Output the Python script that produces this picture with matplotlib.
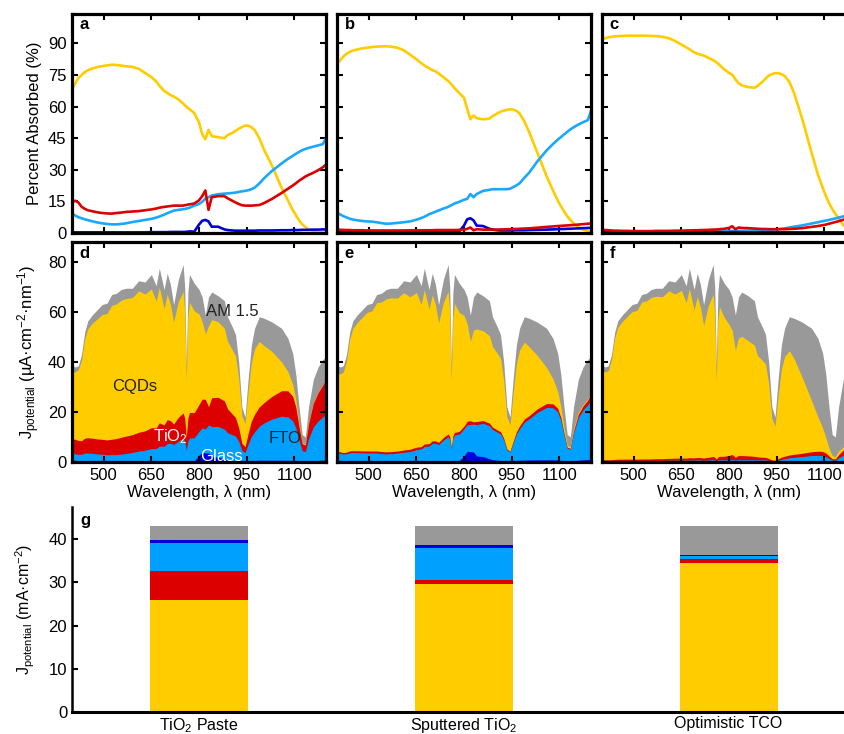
import numpy as np
import matplotlib
matplotlib.use("Agg")
import matplotlib.pyplot as plt

plt.rcParams['font.family'] = ['Liberation Sans', 'DejaVu Sans']
plt.rcParams['mathtext.fontset'] = 'custom'
plt.rcParams['mathtext.rm'] = 'Liberation Sans'
plt.rcParams['mathtext.it'] = 'Liberation Sans:italic'
plt.rcParams['mathtext.bf'] = 'Liberation Sans:bold'

# ---------------- data ----------------
wavelength = [400, 410, 420, 430, 440, 450, 465, 480, 495, 510, 525, 540, 555, 570, 590, 610,
              630, 650, 665, 675, 690, 700, 710, 720, 735, 750, 755, 760, 765, 770, 785, 800,
              810, 820, 830, 840, 860, 880, 890, 905, 915, 925, 935, 945, 955, 965, 975, 990,
              1005, 1030, 1060, 1080, 1095, 1105, 1115, 1125, 1135, 1145, 1160, 1175, 1190, 1200]

# AM1.5 photon current density (uA cm^-2 nm^-1)
am15 = [38.8, 38.0, 38.5, 43.0, 52.0, 56.5, 59.0, 61.0, 63.0, 63.5, 67.0, 67.5, 69.0, 69.5, 69.5, 72.5,
        72.0, 75.0, 70.5, 77.5, 69.0, 75.5, 71.0, 63.0, 73.0, 79.0, 70.0, 38.5, 68.0, 75.0, 71.5, 69.0,
        66.0, 58.8, 66.0, 68.0, 66.5, 64.5, 58.0, 54.0, 51.0, 40.0, 22.0, 18.0, 33.5, 46.8, 53.5, 58.1,
        57.5, 56.0, 53.5, 49.5, 43.5, 35.0, 22.0, 11.0, 10.0, 22.0, 33.0, 38.0, 41.0, 42.0]

# Percent absorbed, panel a (TiO2 paste)
cqd_a = [68.4, 71.0, 73.6, 75.0, 76.3, 77.3, 78.2, 78.8, 79.2, 79.6, 79.9, 79.8, 79.5, 79.2, 78.9, 78.0,
         76.0, 74.0, 72.0, 70.0, 67.5, 66.5, 65.5, 64.8, 63.5, 61.5, 60.8, 60.0, 59.4, 58.8, 57.0, 52.5,
         47.0, 44.5, 49.0, 46.0, 45.5, 45.0, 46.5, 47.5, 48.5, 49.5, 50.3, 51.0, 51.0, 50.2, 49.0, 45.0,
         39.5, 32.0, 21.5, 15.5, 11.0, 8.5, 6.0, 4.2, 2.8, 1.8, 1.0, 0.5, 0.2, 0.1]
fto_a = [9.2, 8.3, 7.5, 7.0, 6.5, 6.1, 5.5, 5.0, 4.6, 4.3, 4.1, 4.1, 4.3, 4.6, 5.2, 5.7,
         6.2, 6.7, 7.3, 7.8, 8.7, 9.4, 10.0, 10.6, 11.0, 11.3, 11.4, 11.6, 11.8, 12.0, 13.0, 13.8,
         14.8, 16.3, 17.0, 17.8, 18.4, 18.7, 18.8, 19.0, 19.2, 19.5, 19.8, 20.0, 20.3, 20.8, 21.5, 23.5,
         26.0, 29.5, 33.0, 35.2, 36.6, 37.6, 38.5, 39.3, 39.9, 40.4, 41.0, 41.6, 42.2, 45.0]
tio2_a = [14.7, 15.3, 14.5, 12.5, 11.5, 10.8, 10.3, 9.8, 9.5, 9.3, 9.2, 9.5, 9.7, 10.0, 10.2, 10.4,
          10.8, 11.2, 11.6, 12.0, 12.4, 12.6, 12.8, 13.0, 13.0, 13.0, 13.2, 13.3, 13.5, 13.6, 14.0, 15.5,
          17.5, 20.2, 11.0, 17.0, 17.5, 17.5, 16.5, 15.3, 14.5, 13.8, 13.2, 13.0, 13.0, 13.0, 13.1, 13.3,
          14.2, 16.2, 19.0, 21.0, 22.5, 23.6, 24.8, 25.8, 26.8, 27.6, 28.6, 29.8, 31.2, 32.5]
glass_a = [0.3, 0.3, 0.3, 0.3, 0.3, 0.3, 0.3, 0.3, 0.3, 0.3, 0.3, 0.3, 0.3, 0.3, 0.3, 0.3,
           0.3, 0.4, 0.4, 0.4, 0.4, 0.4, 0.5, 0.5, 0.5, 0.5, 0.5, 0.6, 0.6, 0.8, 0.6, 4.0,
           5.8, 6.2, 5.5, 3.0, 3.0, 1.7, 1.4, 1.2, 1.1, 1.1, 1.1, 1.1, 1.1, 1.1, 1.1, 1.2,
           1.2, 1.2, 1.3, 1.3, 1.4, 1.4, 1.4, 1.5, 1.5, 1.5, 1.6, 1.6, 1.7, 1.7]

# panel b (sputtered TiO2)
cqd_b = [80.5, 82.0, 83.8, 85.1, 86.0, 86.6, 87.2, 87.7, 88.0, 88.3, 88.5, 88.6, 88.7, 88.5, 88.0, 86.8,
         84.7, 82.5, 80.7, 79.6, 78.2, 77.4, 76.8, 75.8, 74.0, 72.2, 71.5, 70.7, 69.8, 68.8, 66.5, 64.2,
         59.0, 54.0, 55.8, 54.5, 54.0, 54.3, 55.5, 56.8, 57.6, 58.1, 58.5, 58.7, 58.6, 58.0, 56.8, 53.0,
         48.0, 38.5, 27.0, 20.3, 15.5, 12.8, 10.3, 8.0, 6.2, 4.6, 2.8, 1.6, 1.0, 0.8]
fto_b = [9.6, 8.8, 8.0, 7.4, 6.8, 6.4, 6.0, 5.7, 5.5, 5.4, 5.1, 4.7, 4.4, 4.5, 4.8, 5.1,
         5.5, 6.3, 7.1, 7.7, 8.9, 9.5, 10.1, 10.7, 11.6, 12.4, 12.8, 13.2, 13.6, 14.0, 14.8, 15.8,
         16.2, 18.5, 17.0, 18.5, 20.0, 20.5, 20.8, 20.8, 20.8, 20.8, 20.8, 21.0, 21.8, 22.6, 23.6, 26.2,
         28.6, 33.8, 39.2, 42.2, 44.3, 45.5, 46.8, 48.0, 49.2, 50.2, 51.5, 52.6, 53.6, 58.0]
tio2_b = [1.6, 1.5, 1.5, 1.4, 1.4, 1.3, 1.3, 1.3, 1.2, 1.2, 1.2, 1.2, 1.2, 1.2, 1.2, 1.2,
          1.3, 1.3, 1.3, 1.3, 1.3, 1.3, 1.4, 1.4, 1.4, 1.4, 1.4, 1.4, 1.4, 1.4, 1.5, 1.5,
          2.0, 2.6, 1.3, 1.8, 1.6, 1.6, 1.6, 1.6, 1.7, 1.7, 1.8, 1.8, 1.9, 1.9, 2.0, 2.1,
          2.2, 2.5, 2.9, 3.1, 3.3, 3.4, 3.5, 3.6, 3.7, 3.8, 4.0, 4.2, 4.4, 4.5]
glass_b = [0.3, 0.3, 0.3, 0.3, 0.3, 0.3, 0.3, 0.3, 0.3, 0.3, 0.3, 0.3, 0.3, 0.3, 0.3, 0.3,
           0.3, 0.3, 0.3, 0.3, 0.4, 0.4, 0.4, 0.4, 0.4, 0.4, 0.4, 0.4, 0.4, 0.4, 0.8, 3.5,
           6.5, 7.0, 6.0, 3.5, 3.3, 2.0, 1.6, 1.3, 1.2, 1.2, 1.2, 1.2, 1.2, 1.3, 1.3, 1.3,
           1.4, 1.5, 1.6, 1.7, 1.8, 1.9, 1.9, 2.0, 2.0, 2.1, 2.2, 2.3, 2.4, 2.5]

# panel c (optimistic TCO)
cqd_c = [91.8, 92.5, 92.9, 93.2, 93.4, 93.5, 93.6, 93.7, 93.7, 93.7, 93.7, 93.7, 93.6, 93.5, 93.2, 92.5,
         91.2, 89.5, 88.2, 87.3, 85.8, 85.2, 84.7, 84.3, 83.2, 82.1, 81.6, 81.1, 80.5, 79.8, 77.7, 76.0,
         75.2, 73.0, 71.2, 70.1, 69.3, 69.0, 69.8, 71.8, 73.3, 74.7, 75.4, 75.9, 75.9, 75.5, 74.6, 71.8,
         66.5, 54.5, 38.2, 27.8, 21.6, 17.6, 14.2, 11.4, 9.1, 7.0, 3.7, 2.0, 1.0, 0.6]
fto_c = [0.6, 0.6, 0.6, 0.6, 0.6, 0.6, 0.6, 0.6, 0.6, 0.6, 0.6, 0.6, 0.6, 0.6, 0.6, 0.7,
         0.7, 0.7, 0.7, 0.7, 0.8, 0.8, 0.8, 0.8, 0.8, 0.9, 0.9, 0.9, 0.9, 0.9, 0.9, 1.0,
         1.0, 1.0, 1.0, 1.0, 1.1, 1.1, 1.2, 1.3, 1.4, 1.5, 1.6, 1.7, 1.8, 2.0, 2.2, 2.6,
         3.0, 3.6, 4.5, 5.1, 5.6, 5.9, 6.2, 6.6, 6.9, 7.3, 7.9, 8.4, 8.9, 9.2]
tio2_c = [1.5, 1.4, 1.3, 1.2, 1.1, 1.1, 1.0, 1.0, 0.9, 0.9, 0.9, 0.9, 0.9, 1.0, 1.0, 1.0,
          1.1, 1.1, 1.2, 1.2, 1.3, 1.3, 1.4, 1.4, 1.5, 1.6, 1.6, 1.7, 1.7, 1.8, 2.0, 2.4,
          3.2, 1.8, 2.6, 2.4, 2.3, 2.1, 2.0, 1.9, 1.9, 1.8, 1.8, 1.8, 1.8, 1.8, 1.8, 1.9,
          2.0, 2.3, 2.9, 3.3, 3.7, 4.0, 4.4, 4.8, 5.2, 5.6, 6.3, 7.0, 7.7, 8.0]
glass_c = [0.3, 0.3, 0.3, 0.3, 0.3, 0.3, 0.3, 0.3, 0.3, 0.3, 0.3, 0.3, 0.3, 0.3, 0.3, 0.3,
           0.3, 0.3, 0.3, 0.3, 0.3, 0.3, 0.3, 0.3, 0.3, 0.3, 0.3, 0.3, 0.3, 0.3, 0.3, 0.4,
           0.4, 0.4, 0.4, 0.4, 0.3, 0.3, 0.3, 0.3, 0.3, 0.3, 0.3, 0.3, 0.3, 0.3, 0.3, 0.3,
           0.3, 0.3, 0.3, 0.3, 0.3, 0.3, 0.3, 0.3, 0.3, 0.3, 0.3, 0.3, 0.3, 0.3]

# panel g: integrated J (mA cm^-2)
bar_labels = ['TiO$_2$ Paste', 'Sputtered TiO$_2$', 'Optimistic TCO']
bar_cqd = [25.9, 29.6, 34.4]
bar_tio2 = [6.7, 0.9, 1.0]
bar_fto = [6.5, 7.4, 0.7]
bar_glass = [0.7, 0.7, 0.3]
bar_lost = [3.1, 4.3, 6.5]

# ---------------- style ----------------
YEL = '#FFCC00'
RED = '#DD0000'
LBLUE = '#00A0FF'
LBLUE_LINE = '#1AA8FF'
DBLUE = '#0000DD'
GRAY = '#999999'
FS = 12
SPINE_LW = 2.3

W, H = 845, 734
fig = plt.figure(figsize=(W / 100, H / 100), dpi=100)


def add_ax(l, t, r, b):
    return fig.add_axes([l / W, 1 - b / H, (r - l) / W, (b - t) / H])


def style_box(ax):
    for s in ax.spines.values():
        s.set_linewidth(SPINE_LW)
    ax.tick_params(direction='in', top=True, right=True, length=4, width=1.5,
                   labelsize=FS, pad=4)


wl = np.array(wavelength)
am = np.array(am15)
sets = [
    (np.array(cqd_a), np.array(tio2_a), np.array(fto_a), np.array(glass_a), 'a', 'd'),
    (np.array(cqd_b), np.array(tio2_b), np.array(fto_b), np.array(glass_b), 'b', 'e'),
    (np.array(cqd_c), np.array(tio2_c), np.array(fto_c), np.array(glass_c), 'c', 'f'),
]
lefts = [72, 337, 602]
xt = [500, 650, 800, 950, 1100]

for i, (cqd, tio2, fto, glass, ltop, lmid) in enumerate(sets):
    L = lefts[i]
    # top: percent absorbed
    ax = add_ax(L, 14, L + 254, 233)
    ax.plot(wl, cqd, color=YEL, lw=1.9)
    ax.plot(wl, fto, color=LBLUE_LINE, lw=1.9)
    ax.plot(wl, glass, color=DBLUE, lw=1.9)
    ax.plot(wl, tio2, color=RED, lw=1.9)
    ax.set_xlim(400, 1200)
    ax.set_ylim(0, 104)
    ax.set_xticks(xt)
    ax.set_yticks([0, 15, 30, 45, 60, 75, 90])
    style_box(ax)
    ax.tick_params(labelbottom=False)
    if i == 0:
        ax.set_ylabel('Percent Absorbed (%)', fontsize=FS, labelpad=4)
    else:
        ax.tick_params(labelleft=False)
    ax.text(0.03, 0.95, ltop, transform=ax.transAxes, fontsize=FS, fontweight='bold',
            va='center', ha='left')

    # middle: J potential stacked
    axm = add_ax(L, 242, L + 254, 462)
    s_glass = am * glass / 100
    s_fto = s_glass + am * fto / 100
    s_tio2 = s_fto + am * tio2 / 100
    s_cqd = s_tio2 + am * cqd / 100
    axm.fill_between(wl, 0, am, color=GRAY, lw=0)
    axm.fill_between(wl, 0, s_cqd, color=YEL, lw=0)
    axm.fill_between(wl, 0, s_tio2, color=RED, lw=0)
    axm.fill_between(wl, 0, s_fto, color=LBLUE, lw=0)
    axm.fill_between(wl, 0, s_glass, color=DBLUE, lw=0)
    axm.set_xlim(400, 1200)
    axm.set_ylim(0, 88)
    axm.set_xticks(xt)
    axm.set_yticks([0, 20, 40, 60, 80])
    style_box(axm)
    axm.set_xlabel('Wavelength, λ (nm)', fontsize=FS, labelpad=2)
    if i == 0:
        axm.set_ylabel(r'J$_{\mathrm{potential}}$ (µA·cm$^{-2}$·nm$^{-1}$)', fontsize=FS,
                       labelpad=4)
        axm.text(905, 60, 'AM 1.5', fontsize=FS, ha='center', va='center', color='#222222')
        axm.text(597, 30, 'CQDs', fontsize=FS, ha='center', va='center', color='#222222')
        axm.text(710, 10, 'TiO$_2$', fontsize=FS, ha='center', va='center', color='white')
        axm.text(1070, 9.5, 'FTO', fontsize=FS, ha='center', va='center', color='#222222')
        axm.text(870, 2.2, 'Glass', fontsize=FS, ha='center', va='center', color='white')
    else:
        axm.tick_params(labelleft=False)
    axm.text(0.03, 0.95, lmid, transform=axm.transAxes, fontsize=FS, fontweight='bold',
             va='center', ha='left')

# bottom: bars
axg = add_ax(72, 507, 861, 712)
xpos = np.arange(1, 4)
bw = 0.37
b0 = np.zeros(3)
for vals, col in [(bar_cqd, YEL), (bar_tio2, RED), (bar_fto, LBLUE), (bar_glass, DBLUE),
                  (bar_lost, GRAY)]:
    axg.bar(xpos, vals, bw, bottom=b0, color=col, lw=0)
    b0 = b0 + np.array(vals)
axg.set_xlim(0.52, 3.5)
axg.set_ylim(0, 47.4)
axg.set_xticks(xpos)
axg.set_xticklabels(bar_labels, fontsize=FS - 0.5)
axg.set_yticks([0, 10, 20, 30, 40])
axg.spines['top'].set_visible(False)
axg.spines['right'].set_visible(False)
axg.spines['left'].set_linewidth(1.8)
axg.spines['bottom'].set_linewidth(2.2)
axg.tick_params(axis='y', direction='in', length=4, width=1.5, labelsize=FS)
axg.tick_params(axis='x', length=0, labelsize=FS - 0.5, pad=3)
axg.set_ylabel(r'J$_{\mathrm{potential}}$ (mA·cm$^{-2}$)', fontsize=FS - 0.5, labelpad=8)
axg.text(0.01, 0.935, 'g', transform=axg.transAxes, fontsize=FS, fontweight='bold',
         va='center', ha='left')

fig.savefig('out.png', dpi=100)
